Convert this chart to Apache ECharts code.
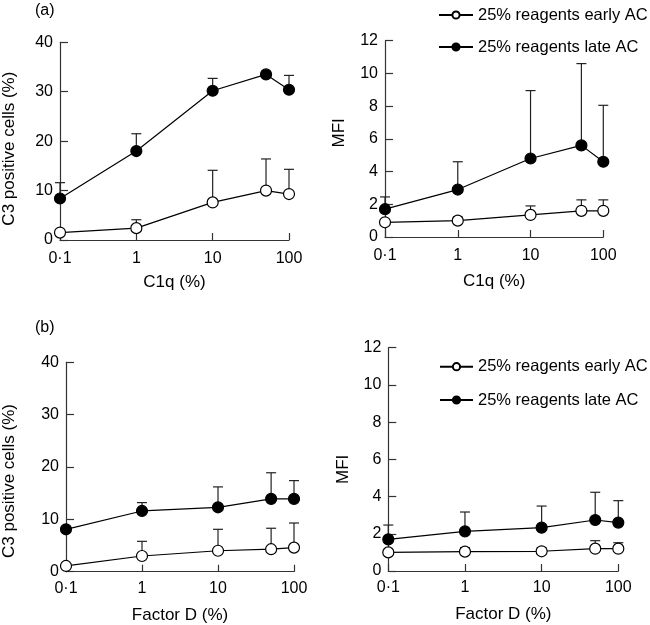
<!DOCTYPE html>
<html>
<head>
<meta charset="utf-8">
<script src="https://cdn.jsdelivr.net/npm/echarts@6/dist/echarts.min.js"></script>
<style>
html,body{margin:0;padding:0;background:#fff;}
#main{width:650px;height:625px;}
</style>
</head>
<body>
<div id="main"></div>
<script>
// ---- data ----
var xVals = [0.1, 1, 10, 50, 100];
var xTicks = ['0·1', '1', '10', '100'];
var seriesNames = ['25% reagents early AC', '25% reagents late AC'];

// (a) C1q, C3 positive cells (%)
var aC3Early = [1.5, 2.4, 7.6, 10.0, 9.3];
var aC3EarlyErr = [null, 4.1, 14.1, 16.4, 14.3];
var aC3Late = [8.4, 18.0, 30.2, 33.5, 30.4];
var aC3LateErr = [11.6, 21.5, 32.7, null, 33.3];
// (a) C1q, MFI
var aMFIEarly = [0.9, 1.0, 1.35, 1.6, 1.6];
var aMFIEarlyErr = [null, 1.22, 1.9, 2.27, 2.27];
var aMFILate = [1.7, 2.9, 4.8, 5.6, 4.6];
var aMFILateErr = [2.45, 4.6, 8.95, 10.6, 8.05];
// (b) Factor D, C3 positive cells (%)
var bC3Early = [1.1, 3.0, 4.0, 4.3, 4.6];
var bC3EarlyErr = [null, 5.8, 8.1, 8.3, 9.3];
var bC3Late = [8.1, 11.6, 12.3, 13.9, 13.9];
var bC3LateErr = [null, 13.2, 16.2, 18.9, 17.4];
// (b) Factor D, MFI
var bMFIEarly = [1.0, 1.04, 1.06, 1.2, 1.2];
var bMFIEarlyErr = [null, 1.25, 1.25, 1.63, 1.52];
var bMFILate = [1.7, 2.13, 2.33, 2.74, 2.6];
var bMFILateErr = [2.47, 3.17, 3.49, 4.23, 3.78];

// ---- chart ----
var FONT = 'Liberation Sans';
var TXT = '#000';
var AXC = '#333';

var panels = [
  {grid:{left:60, top:42.3, width:229, height:197.7}, yMax:40, yInt:10, yName:'C3 positive cells (%)', yGap:42, yPad:[0,15,0,0], xName:'C1q (%)', xGap:34, xMargin:11,
   early:aC3Early, earlyErr:aC3EarlyErr, late:aC3Late, lateErr:aC3LateErr},
  {grid:{left:385, top:40.7, width:218.3, height:196.3}, yMax:12, yInt:2, yName:'MFI', yGap:37, yPad:[0,0,0,12], xName:'C1q (%)', xGap:36, xMargin:11,
   early:aMFIEarly, earlyErr:aMFIEarlyErr, late:aMFILate, lateErr:aMFILateErr},
  {grid:{left:65.7, top:362.3, width:228.3, height:209.4}, yMax:40, yInt:10, yName:'C3 positive cells (%)', yGap:48, yPad:[0,28,0,0], xName:'Factor D (%)', xGap:35, xMargin:9,
   early:bC3Early, earlyErr:bC3EarlyErr, late:bC3Late, lateErr:bC3LateErr},
  {grid:{left:388.3, top:347.7, width:230, height:223.3}, yMax:12, yInt:2, yName:'MFI', yGap:36, yPad:[0,20,0,0], xName:'Factor D (%)', xGap:35, xMargin:9,
   early:bMFIEarly, earlyErr:bMFIEarlyErr, late:bMFILate, lateErr:bMFILateErr}
];

function xLabel(v){
  var l = Math.round(Math.log10(v));
  return xTicks[l + 1] !== undefined ? xTicks[l + 1] : String(v);
}

var grids = [], xAxes = [], yAxes = [], series = [];

function errorRender(params, api){
  var x = api.value(0), y = api.value(1), t = api.value(2);
  var p0 = api.coord([x, y]);
  var p1 = api.coord([x, t]);
  var hw = 5;
  return {
    type:'group',
    children:[
      {type:'line', shape:{x1:p0[0], y1:p0[1], x2:p1[0], y2:p1[1]}, style:{stroke:'#222', lineWidth:1.2}},
      {type:'line', shape:{x1:p1[0]-hw, y1:p1[1], x2:p1[0]+hw, y2:p1[1]}, style:{stroke:'#222', lineWidth:1.2}}
    ]
  };
}

panels.forEach(function(p, i){
  grids.push(p.grid);
  xAxes.push({
    gridIndex:i, type:'log', logBase:10, min:0.1, max:100,
    axisLine:{show:true, lineStyle:{color:AXC, width:1.2}},
    axisTick:{show:true, inside:true, length:7, lineStyle:{color:AXC, width:1.2}},
    minorTick:{show:false},
    splitLine:{show:false},
    axisLabel:{color:TXT, fontFamily:FONT, fontSize:16, margin:p.xMargin, formatter:xLabel},
    name:p.xName, nameLocation:'middle', nameGap:p.xGap,
    nameTextStyle:{color:TXT, fontFamily:FONT, fontSize:17}
  });
  yAxes.push({
    gridIndex:i, type:'value', min:0, max:p.yMax, interval:p.yInt,
    axisLine:{show:true, lineStyle:{color:AXC, width:1.2}},
    axisTick:{show:true, inside:true, length:8, lineStyle:{color:AXC, width:1.2}},
    splitLine:{show:false},
    axisLabel:{color:TXT, fontFamily:FONT, fontSize:16, margin:7},
    name:p.yName, nameLocation:'middle', nameGap:p.yGap,
    nameTextStyle:{color:TXT, fontFamily:FONT, fontSize:17, padding:p.yPad}
  });
  [['early', p.early, p.earlyErr, '#fff'], ['late', p.late, p.lateErr, '#000']].forEach(function(s, k){
    var errData = [];
    xVals.forEach(function(x, j){
      if (s[2][j] != null) errData.push([x, s[1][j], s[2][j]]);
    });
    series.push({
      type:'custom', name:'err'+i+s[0], xAxisIndex:i, yAxisIndex:i,
      renderItem:errorRender, data:errData, encode:{x:0, y:[1,2]},
      clip:false, silent:true, z:1
    });
    series.push({
      type:'line', name:seriesNames[k], xAxisIndex:i, yAxisIndex:i,
      data:xVals.map(function(x, j){ return [x, s[1][j]]; }),
      symbol:'circle', symbolSize:11, showSymbol:true,
      lineStyle:{color:'#000', width:1.2},
      itemStyle:{color:s[3], borderColor:'#000', borderWidth:1.2},
      clip:false, animation:false, z:3
    });
  });
});

var legendBase = {
  orient:'vertical', selectedMode:false, itemHeight:9, padding:0,
  textStyle:{color:TXT, fontFamily:FONT, fontSize:16.5, lineHeight:18},
  data:seriesNames
};

var option = {
  backgroundColor:'#fff',
  animation:false,
  title:[
    {text:'(a)', left:35, top:3, padding:0, textStyle:{color:TXT, fontFamily:FONT, fontSize:16, fontWeight:'normal'}},
    {text:'(b)', left:35, top:320, padding:0, textStyle:{color:TXT, fontFamily:FONT, fontSize:16, fontWeight:'normal'}}
  ],
  legend:[
    Object.assign({}, legendBase, {left:438, top:6, itemWidth:34, itemGap:14}),
    Object.assign({}, legendBase, {left:439, top:357.7, itemWidth:33, itemGap:15.3})
  ],
  grid:grids, xAxis:xAxes, yAxis:yAxes, series:series
};

var chart = echarts.init(document.getElementById('main'), null, {renderer:'canvas'});
chart.setOption(option);
</script>
</body>
</html>
